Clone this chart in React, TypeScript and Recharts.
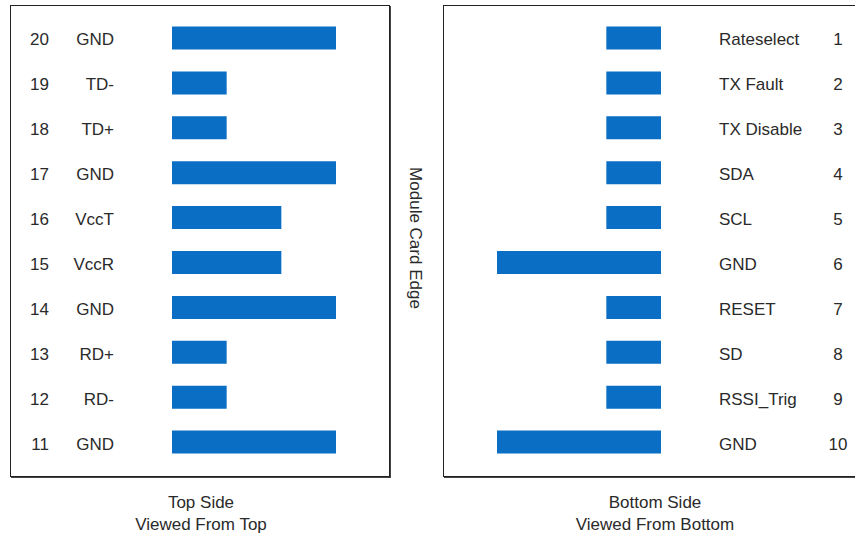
import { BarChart, Bar, XAxis, YAxis } from 'recharts';

const topPins = [20, 19, 18, 17, 16, 15, 14, 13, 12, 11];
const topNames = ['GND', 'TD-', 'TD+', 'GND', 'VccT', 'VccR', 'GND', 'RD+', 'RD-', 'GND'];
const topLengths = [3, 1, 1, 3, 2, 2, 3, 1, 1, 3];

const bottomPins = [1, 2, 3, 4, 5, 6, 7, 8, 9, 10];
const bottomNames = ['Rateselect', 'TX Fault', 'TX Disable', 'SDA', 'SCL', 'GND', 'RESET', 'SD', 'RSSI_Trig', 'GND'];
const bottomLengths = [1, 1, 1, 1, 1, 3, 1, 1, 1, 3];

const topData = topPins.map((pin, i) => ({ pin: String(pin), name: topNames[i], len: topLengths[i] }));
const bottomData = bottomPins.map((pin, i) => ({ pin: String(pin), name: bottomNames[i], len: bottomLengths[i] }));

const FONT = '"Liberation Sans", Arial, sans-serif';
const TEXT = '#2a2a2a';
const BLUE = '#0a6ec4';

function TopTick(props: any) {
  const { y, payload } = props;
  const row = topData.find((d) => d.pin === payload.value);
  return (
    <g fontFamily={FONT} fontSize={17} fill={TEXT}>
      <text x={49} y={y + 2} textAnchor="end" dominantBaseline="central">{payload.value}</text>
      <text x={114} y={y + 2} textAnchor="end" dominantBaseline="central">{row?.name}</text>
    </g>
  );
}

function BottomTick(props: any) {
  const { y, payload } = props;
  const row = bottomData.find((d) => d.pin === payload.value);
  return (
    <g fontFamily={FONT} fontSize={17} fill={TEXT}>
      <text x={719} y={y + 2} textAnchor="start" dominantBaseline="central">{row?.name}</text>
      <text x={838} y={y + 2} textAnchor="middle" dominantBaseline="central">{payload.value}</text>
    </g>
  );
}

const box = (left: number, width: number): React.CSSProperties => ({
  position: 'absolute',
  left,
  top: 5,
  width,
  height: 470,
  border: '1px solid #222',
  boxShadow: '1px 1px 0 #444',
  background: '#fff',
});

const caption: React.CSSProperties = {
  position: 'absolute',
  fontFamily: FONT,
  fontSize: 17,
  color: TEXT,
  textAlign: 'center',
  lineHeight: '22px',
  width: 300,
};

export default function App() {
  return (
    <div style={{ position: 'absolute', left: 0, top: 0, width: 855, height: 537, background: '#fff', overflow: 'hidden' }}>
      <div style={box(10, 378)} />
      <div style={box(443, 420)} />

      <div style={{ position: 'absolute', left: 0, top: 0 }}>
        <BarChart
          width={855}
          height={480}
          data={topData}
          layout="vertical"
          margin={{ top: 15.5, bottom: 15.5, left: 0, right: 519 }}
        >
          <XAxis type="number" domain={[0, 3]} hide />
          <YAxis type="category" dataKey="pin" width={172} axisLine={false} tickLine={false} tick={<TopTick />} interval={0} />
          <Bar dataKey="len" fill={BLUE} barSize={23} isAnimationActive={false} />
        </BarChart>
      </div>

      <div style={{ position: 'absolute', left: 0, top: 0 }}>
        <BarChart
          width={855}
          height={480}
          data={bottomData}
          layout="vertical"
          margin={{ top: 15.5, bottom: 15.5, left: 497, right: 0 }}
        >
          <XAxis type="number" domain={[0, 3]} reversed hide />
          <YAxis type="category" dataKey="pin" orientation="right" width={194} axisLine={false} tickLine={false} tick={<BottomTick />} interval={0} />
          <Bar dataKey="len" fill={BLUE} barSize={23} isAnimationActive={false} />
        </BarChart>
      </div>

      <div
        style={{
          position: 'absolute',
          left: 415,
          top: 238,
          transform: 'translate(-50%, -50%) rotate(90deg)',
          fontFamily: FONT,
          fontSize: 17,
          color: TEXT,
          whiteSpace: 'nowrap',
        }}
      >
        Module Card Edge
      </div>

      <div style={{ ...caption, left: 201 - 150, top: 492 }}>
        Top Side<br />Viewed From Top
      </div>
      <div style={{ ...caption, left: 655 - 150, top: 492 }}>
        Bottom Side<br />Viewed From Bottom
      </div>
    </div>
  );
}
